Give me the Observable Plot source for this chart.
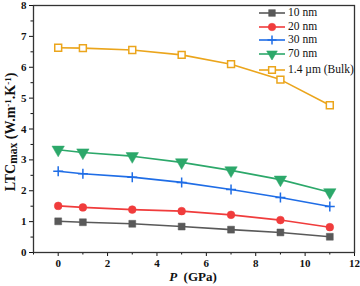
<!DOCTYPE html>
<html><head><meta charset="utf-8">
<script src="https://cdn.jsdelivr.net/npm/d3@7"></script>
<script src="https://cdn.jsdelivr.net/npm/@observablehq/plot@0.6"></script>
<style>
body{margin:0;background:#fff;}
#wrap{position:relative;width:360px;height:286px;font-family:"Liberation Serif","Times New Roman",serif;}
#legend{position:absolute;left:258px;top:6px;font-size:11.5px;color:#111;line-height:1;}
#legend .row{display:flex;align-items:center;height:13.7px;}
#legend .row:last-child{margin-top:2px;}
#legend svg{margin-right:2px;}
</style></head><body><div id="wrap"><div id="legend"></div></div>
<script>
const pressure = [0, 1, 3, 5, 7, 9, 11];
const seriesNames = ["10 nm", "20 nm", "30 nm", "70 nm", "1.4 µm (Bulk)"];
const ltc10 = [1.01, 0.98, 0.93, 0.84, 0.74, 0.65, 0.51];
const ltc20 = [1.51, 1.46, 1.39, 1.34, 1.22, 1.05, 0.82];
const ltc30 = [2.63, 2.55, 2.44, 2.27, 2.04, 1.78, 1.49];
const ltc70 = [3.33, 3.24, 3.12, 2.92, 2.66, 2.36, 1.95];
const ltcBulk = [6.63, 6.62, 6.56, 6.40, 6.10, 5.60, 4.77];
const colors = ["#595959", "#f03c3c", "#1f6de6", "#2ca86a", "#eba51c"];
const symbols = ["square", "circle", "plus", "triangle", "square"];
const xTicks = [0, 2, 4, 6, 8, 10, 12];
const xMinor = [-1, 1, 3, 5, 7, 9, 11];
const yTicks = [0, 1, 2, 3, 4, 5, 6, 7, 8];
const yMinor = [0.5, 1.5, 2.5, 3.5, 4.5, 5.5, 6.5, 7.5];

const allValues = [ltc10, ltc20, ltc30, ltc70, ltcBulk];
const rows = [];
seriesNames.forEach((s, i) => pressure.forEach((p, j) => rows.push({s, p, v: allValues[i][j], i})));

const dotMarks = seriesNames.map((s, i) => {
  const open = i === 4, plus = symbols[i] === "plus";
  return Plot.dot(rows.filter(d => d.s === s), {
    x: "p", y: "v", symbol: () => symbols[i],
    r: plus ? 3.3 : (i === 3 ? 4.6 : 3.9),
    rotate: i === 3 ? 180 : 0,
    fill: open || plus ? (open ? "white" : "none") : colors[i],
    stroke: colors[i], strokeWidth: open || plus ? 1.5 : 0.5
  });
});

const chart = Plot.plot({
  width: 360, height: 286,
  marginLeft: 33, marginRight: 6, marginTop: 5, marginBottom: 34,
  style: {fontFamily: '"Liberation Serif", "Times New Roman", serif', fontWeight: "bold", fontSize: "11px", color: "#111", background: "white"},
  x: {domain: [-1, 12]},
  y: {domain: [0, 8]},
  symbol: {domain: symbols, range: symbols},
  marks: [
    Plot.axisX({ticks: xTicks, tickSize: 4, tickPadding: 3, label: null, tickFormat: d => d}),
    Plot.axisX({ticks: xMinor, tickSize: 2.5, text: null, label: null}),
    Plot.axisY({ticks: yTicks, tickSize: 4, tickPadding: 3, label: null, tickFormat: d => d}),
    Plot.axisY({ticks: yMinor, tickSize: 2.5, text: null, label: null}),
    Plot.frame({stroke: "#333", strokeWidth: 1.3}),
    Plot.line(rows, {x: "p", y: "v", z: "s", stroke: d => colors[d.i], strokeWidth: 1.6}),
    ...dotMarks
  ]
});
document.getElementById("wrap").prepend(chart);

const svg = d3.select(chart);
const ylab = svg.append("text")
  .attr("transform", "translate(15,132) rotate(-90)")
  .attr("text-anchor", "middle")
  .style("font-size", "14px").style("font-weight", "bold").attr("fill", "#111");
ylab.append("tspan").text("LTC");
ylab.append("tspan").text("max").attr("dy", "2").style("font-size", "11.5px");
ylab.append("tspan").text(" (W.m").attr("dy", "-2");
ylab.append("tspan").text("-1").attr("dy", "-4").style("font-size", "9px");
ylab.append("tspan").text(".K").attr("dy", "4");
ylab.append("tspan").text("-1").attr("dy", "-4").style("font-size", "9px");
ylab.append("tspan").text(")").attr("dy", "4");

const xlab = svg.append("text")
  .attr("x", 193).attr("y", 281)
  .attr("text-anchor", "middle")
  .style("font-size", "13px").style("font-weight", "bold").attr("fill", "#111");
xlab.append("tspan").text("P").style("font-style", "italic");
xlab.append("tspan").text("  (GPa)");

// legend
const leg = d3.select("#legend");
seriesNames.forEach((s, i) => {
  const row = leg.append("div").attr("class", "row");
  const g = row.append("svg").attr("width", 28).attr("height", 12);
  g.append("line").attr("x1", 1).attr("x2", 27).attr("y1", 6).attr("y2", 6).attr("stroke", colors[i]).attr("stroke-width", 1.6);
  const open = i === 4, plus = symbols[i] === "plus";
  const sym = {square: d3.symbolSquare, circle: d3.symbolCircle, plus: d3.symbolPlus, triangle: d3.symbolTriangle}[symbols[i]];
  const size = plus ? 60 : (i === 3 ? 50 : 45);
  g.append("path").attr("d", plus ? "M-4.5,0H4.5M0,-4.5V4.5" : d3.symbol(sym, size)())
    .attr("transform", `translate(14,6) rotate(${i === 3 ? 180 : 0})`)
    .attr("fill", open ? "white" : (plus ? "none" : colors[i]))
    .attr("stroke", colors[i]).attr("stroke-width", open || plus ? 1.5 : 0.5);
  row.append("span").text(s);
});
</script>
</body></html>
